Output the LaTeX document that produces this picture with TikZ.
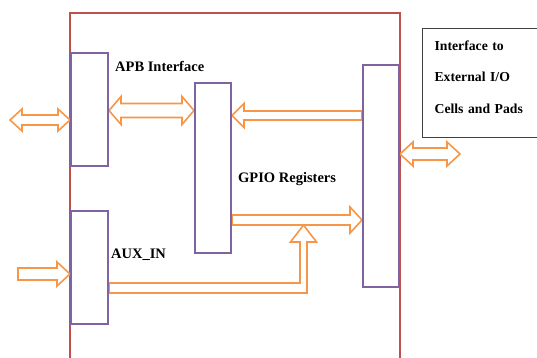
\documentclass[tikz,border=0pt]{standalone}
\usepackage{fontspec}
\setmainfont{Liberation Serif}
\usetikzlibrary{calc,backgrounds,positioning}
\definecolor{framered}{HTML}{C0504D}
\definecolor{blkpurple}{HTML}{8064A2}
\definecolor{busorange}{HTML}{F79646}
\tikzset{
  % Block: purple outline, label sits beside it
  blk/.style={draw=blkpurple, rectangle, line width=2pt, minimum width=37pt,
              anchor=north west, inner sep=0pt},
  blklabel/.style={font=\bfseries\fontsize{14.5}{17}\selectfont, anchor=base west, inner sep=0pt},
  % Chip boundary
  chipframe/.style={draw=framered, line width=2pt},
  % Hollow bus arrows
  hollow/.style={draw=busorange, line width=1.6pt, line join=miter},
  % Note box, right side
  notebox/.style={draw=black!75, rectangle, line width=1.2pt, anchor=north west,
                  align=left, text width=116pt, inner xsep=4pt,
                  minimum width=140pt, minimum height=109pt,
                  font=\bfseries\fontsize{13.7}{31.5}\selectfont}
}
% hollow arrow, one head: tail #1, tip #2, shaft half width #3, head half width #4, head length #5
\newcommand\busone[5]{%
  \coordinate (hB) at ($(#2)!#5!(#1)$);
  \draw[hollow] (#2) -- ($(hB)!#4!90:(#2)$) -- ($(hB)!#3!90:(#2)$)
    -- ($(#1)!#3!90:(#2)$) -- ($(#1)!#3!-90:(#2)$)
    -- ($(hB)!#3!-90:(#2)$) -- ($(hB)!#4!-90:(#2)$) -- cycle;}
% hollow arrow, two heads
\newcommand\bustwo[5]{%
  \coordinate (hA) at ($(#1)!#5!(#2)$);
  \coordinate (hB) at ($(#2)!#5!(#1)$);
  \draw[hollow] (#2) -- ($(hB)!#4!90:(#2)$) -- ($(hB)!#3!90:(#2)$)
    -- ($(hA)!#3!90:(#2)$) -- ($(hA)!#4!90:(#2)$) -- (#1)
    -- ($(hA)!#4!-90:(#2)$) -- ($(hA)!#3!-90:(#2)$)
    -- ($(hB)!#3!-90:(#2)$) -- ($(hB)!#4!-90:(#2)$) -- cycle;}

\begin{document}
\begin{tikzpicture}[x=1pt, y=-1pt]
\useasboundingbox (0,0) rectangle (537,358);

% Blocks
\node[blk, minimum height=113pt] (apb) at (70,52) {};
\node[blk, minimum width=36pt, minimum height=170pt] (gpio) at (194,82) {};
\node[blk, minimum height=113pt] (aux) at (70,210) {};
\node[blk, minimum width=36pt, minimum height=222pt] (pads) at (362,64) {};

% Labels
\node[blklabel] (apblabel) at (115,72) {APB Interface};
\node[blklabel] (gpiolabel) at (238,182) {GPIO Registers};
\node[blklabel] (auxlabel) at (111,258) {AUX\_IN};

% Note
\node[notebox] (extnote) at (422,28) {Interface to\\External I/O\\Cells and Pads\rule[-12pt]{0pt}{0pt}};

% Bus end points
\coordinate (busin) at (10,120);
\coordinate (apbin) at (apb.west |- busin);
\coordinate (apbout) at (apb.east |- 0,110.5);
\coordinate (gpioin) at (gpio.west |- apbout);
\coordinate (gpioback) at (gpio.east |- 0,115.5);
\coordinate (padback) at (pads.west |- gpioback);
\coordinate (gpioout) at (gpio.east |- 0,220);
\coordinate (padin) at (pads.west |- gpioout);
\coordinate (padio) at (pads.east |- 0,154);
\coordinate (padext) at (460,154);
\coordinate (auxsrc) at (18,274);
\coordinate (auxin) at (aux.west |- auxsrc);
\coordinate (auxout) at (aux.east |- 0,288);
\coordinate (merge) at (303.5,225);
\coordinate (bend) at (merge |- auxout);

\begin{scope}[on background layer]
% Chip boundary
\draw[chipframe] (apb.west |- 0,365) -- (apb.west |- 0,13) -- (pads.east |- 0,13) -- (pads.east |- 0,365);

% Buses
\bustwo{busin}{apbin}{5pt}{11pt}{12pt}
\bustwo{apbout}{gpioin}{7pt}{14pt}{12pt}
\busone{padback}{gpioback}{4.5pt}{12pt}{12pt}
\busone{gpioout}{padin}{5pt}{13pt}{12pt}
\bustwo{padio}{padext}{6pt}{12pt}{13pt}
\busone{auxsrc}{auxin}{6pt}{12pt}{13pt}
\draw[hollow] ($(auxout)+(0,-5)$) -- ($(bend)+(-3.5,-5)$) -- ($(merge)+(-3.5,17)$)
  -- ($(merge)+(-13,17)$) -- (merge) -- ($(merge)+(13,17)$) -- ($(merge)+(3.5,17)$)
  -- ($(bend)+(3.5,5)$) -- ($(auxout)+(0,5)$) -- cycle;
\end{scope}

\end{tikzpicture}
\end{document}
